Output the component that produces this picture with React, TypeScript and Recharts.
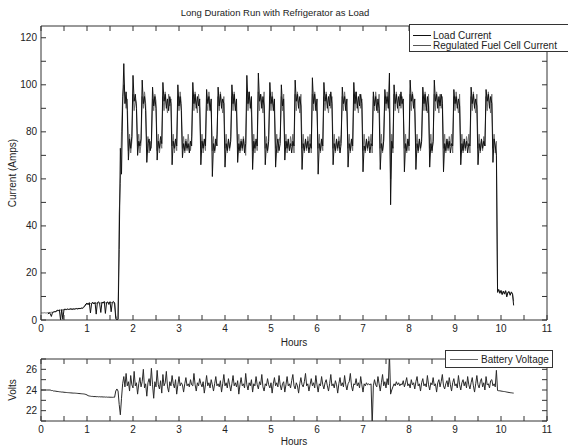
import React from 'react';
import { LineChart, Line, XAxis, YAxis } from 'recharts';

// ---------------- data ----------------
// Load current, sampled every 0.025 h starting at 0 h (null = not yet logged)
const LOAD_STEP_H = 0.025;
const loadCurrent: (number | null)[] = [
  null, null, null, null, null, null, 2.5, 3, 2.8, 1.5,
  3.2, 3.4, 3.6, 3.5, 4.2, 4.0, 4.3, 0, 4.4, 0.3,
  4.5, 4.6, 4.4, 4.7, 4.5, 4.6, 4.8, 4.5, 4.7, 4.6,
  4.8, 4.9, 4.7, 5.0, 4.8, 5.1, 5.0, 5.4, 6.0, 6.8,
  7.2, 6.5, 7.4, 3.0, 7.0, 7.6, 6.8, 7.5, 2.5, 7.3,
  7.8, 6.9, 3.2, 7.6, 7.2, 7.9, 2.8, 7.4, 7.7, 6.6,
  7.8, 3.5, 7.5, 7.9, 7.2, 0.5, 0, 0.5, 30, 73,
  62, 91, 109, 92, 97, 89, 68, 77, 73, 78,
  104, 93, 96, 90, 70, 76, 74, 77, 102, 92,
  95, 89, 67, 75, 77, 72, 76, 99, 91, 95,
  90, 68, 76, 73, 78, 75, 101, 93, 96, 90,
  94, 89, 95, 92, 66, 76, 73, 77, 74, 100,
  91, 95, 89, 69, 75, 72, 76, 73, 75, 71,
  76, 74, 101, 92, 96, 90, 95, 91, 94, 66,
  76, 73, 77, 74, 98, 92, 95, 89, 94, 61,
  75, 72, 77, 74, 99, 91, 96, 90, 94, 92,
  65, 75, 72, 77, 73, 76, 100, 92, 96, 89,
  94, 67, 75, 72, 76, 73, 77, 71, 75, 104,
  92, 97, 90, 95, 64, 76, 73, 77, 74, 105,
  93, 96, 90, 95, 91, 66, 75, 72, 76, 101,
  92, 95, 89, 94, 65, 74, 77, 72, 75, 100,
  91, 94, 68, 76, 73, 77, 72, 75, 71, 76,
  74, 102, 93, 96, 90, 95, 91, 64, 75, 72,
  77, 73, 76, 71, 75, 73, 103, 92, 96, 89,
  94, 62, 75, 72, 77, 74, 101, 93, 96, 90,
  95, 91, 97, 92, 66, 75, 72, 77, 73, 76,
  71, 75, 99, 92, 95, 89, 94, 65, 75, 72,
  77, 74, 101, 92, 97, 90, 95, 91, 96, 92,
  63, 74, 72, 77, 73, 76, 71, 75, 74, 97,
  91, 95, 89, 94, 90, 64, 75, 72, 76, 98,
  92, 95, 90, 105, 49, 76, 73, 100, 92, 96,
  90, 95, 91, 97, 92, 94, 63, 75, 72, 77,
  74, 102, 93, 96, 90, 94, 64, 75, 72, 77,
  73, 76, 99, 92, 96, 89, 95, 91, 65, 75,
  72, 76, 102, 93, 96, 90, 95, 91, 96, 92,
  63, 75, 72, 77, 73, 76, 71, 75, 74, 98,
  92, 95, 90, 94, 91, 66, 75, 72, 77, 73,
  76, 71, 75, 74, 99, 92, 96, 90, 94, 91,
  66, 75, 72, 77, 73, 76, 74, 98, 93, 96,
  90, 95, 92, 67, 77, 74, 70, 12, 13, 11.5,
  12.5, 10.8, 12.2, 11, 12.4, 9.8, 11.6, 12, 10.5, 11.8,
  11, 6.2,
];

// Regulated fuel cell current, sampled every 0.025 h starting at 0 h
const FUEL_STEP_H = 0.025;
const fuelCellCurrent: number[] = [
  3.0, 3.0, 3.0, 3.1, 3.0, 3.0, 3.1, 3.2, 3.2, 3.3,
  3.3, 3.4, 3.5, 3.6, 3.9, 4.0, 4.1, 4.2, 4.3, 4.3,
  4.4, 4.4, 4.5, 4.5, 4.5, 4.6, 4.6, 4.6, 4.7, 4.7,
  4.7, 4.8, 4.8, 4.8, 4.9, 4.9, 5.0, 5.2, 5.8, 6.4,
  6.8, 6.9, 7.0, 7.0, 7.1, 7.1, 7.0, 7.2, 7.1, 7.2,
  7.3, 7.2, 7.2, 7.3, 7.4, 7.3, 7.3, 7.4, 7.4, 7.3,
  7.5, 7.4, 7.4, 7.3, 7.3, 2.0, 0.3, 0.2, 45, 58,
  80, 95, 100, 96, 90, 94, 72, 79, 71, 76,
  96, 89, 94, 92, 74, 79, 71, 75, 95, 90,
  97, 92, 73, 78, 71, 76, 73, 94, 89, 96,
  93, 72, 79, 71, 76, 73, 95, 89, 97, 92,
  88, 96, 91, 94, 74, 79, 71, 76, 72, 95,
  89, 97, 92, 73, 78, 71, 77, 72, 79, 74,
  72, 78, 95, 89, 97, 92, 88, 96, 90, 73,
  79, 71, 76, 72, 94, 89, 97, 91, 88, 72,
  78, 71, 75, 79, 95, 89, 97, 92, 88, 95,
  73, 79, 71, 76, 72, 78, 95, 89, 97, 91,
  88, 73, 79, 71, 77, 72, 78, 74, 70, 96,
  89, 97, 92, 88, 72, 79, 71, 76, 72, 97,
  89, 96, 92, 88, 97, 73, 78, 71, 79, 95,
  89, 97, 92, 88, 73, 79, 71, 76, 78, 95,
  89, 96, 74, 79, 71, 76, 72, 78, 74, 79,
  71, 96, 89, 97, 92, 88, 96, 73, 79, 71,
  76, 72, 78, 74, 79, 71, 96, 89, 97, 91,
  88, 73, 79, 71, 76, 72, 95, 89, 97, 92,
  88, 96, 90, 95, 73, 79, 71, 76, 72, 78,
  74, 79, 95, 89, 97, 91, 88, 73, 79, 71,
  76, 72, 96, 89, 97, 92, 88, 96, 90, 94,
  72, 79, 71, 76, 72, 78, 74, 79, 71, 95,
  89, 97, 92, 88, 96, 73, 79, 71, 77, 95,
  89, 97, 92, 88, 60, 79, 71, 96, 89, 97,
  92, 88, 96, 90, 95, 89, 73, 79, 71, 76,
  72, 96, 89, 97, 92, 88, 73, 79, 71, 76,
  72, 78, 95, 89, 97, 91, 88, 96, 73, 79,
  71, 76, 96, 89, 97, 92, 88, 96, 90, 95,
  73, 79, 71, 76, 72, 78, 74, 79, 71, 95,
  89, 97, 92, 88, 96, 73, 79, 71, 76, 72,
  78, 74, 79, 71, 95, 89, 97, 91, 88, 96,
  73, 79, 71, 76, 72, 78, 74, 95, 89, 97,
  92, 88, 96, 73, 79, 71, 76, 11.5, 12.8, 11.2,
  12.6, 11.0, 12.3, 11.4, 12.5, 10.5, 11.9, 12.2, 10.8, 12.0,
  11.3, 8.0,
];

// Battery voltage, sampled every 0.025 h starting at 0 h
const VOLT_STEP_H = 0.025;
const batteryVoltage: number[] = [
  24.0, 24.0, 24.0, 24.0, 24.0, 24.0, 24.0, 24.0, 24.0, 23.95,
  23.95, 23.9, 23.9, 23.88, 23.86, 23.85, 23.83, 23.82, 23.8, 23.8,
  23.78, 23.77, 23.76, 23.75, 23.74, 23.73, 23.72, 23.71, 23.7, 23.7,
  23.69, 23.68, 23.67, 23.66, 23.65, 23.64, 23.63, 23.62, 23.6, 23.57,
  23.52, 23.45, 23.42, 23.4, 23.38, 23.38, 23.36, 23.37, 23.35, 23.36,
  23.34, 23.35, 23.33, 23.34, 23.32, 23.33, 23.31, 23.32, 23.3, 23.31,
  23.3, 23.3, 23.29, 23.3, 23.3, 23.9, 24.1, 23.9, 22.6, 21.6,
  23.2, 24.6, 25.3, 24.3, 25.6, 24.4, 24.8, 23.9, 25.4, 24.5,
  24.2, 25.8, 24.4, 24.7, 23.6, 24.6, 25.2, 24.3, 24.8, 26.0,
  24.2, 24.6, 23.4, 24.7, 25.1, 24.4, 26.1, 24.5, 23.2, 24.8,
  24.3, 25.9, 24.5, 24.1, 24.9, 23.7, 25.5, 24.4, 24.7, 25.8,
  24.3, 23.8, 24.8, 24.4, 25.4, 24.6, 24.2, 25.0, 23.6, 24.5,
  25.3, 24.4, 24.7, 24.5, 23.8, 24.6, 25.2, 24.4, 24.6, 24.3,
  25.0, 24.5, 24.4, 25.6, 24.5, 23.9, 24.7, 24.4, 25.1, 24.6,
  24.3, 24.8, 23.7, 24.5, 25.4, 24.4, 24.7, 24.2, 25.0, 24.5,
  23.9, 24.6, 25.3, 24.4, 24.6, 24.3, 24.9, 23.8, 24.6, 25.5,
  24.4, 24.7, 24.2, 25.1, 24.5, 23.9, 24.6, 25.4, 24.4, 24.7,
  24.3, 24.9, 23.6, 24.5, 25.2, 24.4, 24.6, 24.2, 25.6, 24.5,
  24.0, 24.7, 24.4, 25.0, 23.8, 24.6, 24.4, 25.3, 24.5, 24.1,
  24.8, 24.5, 25.5, 24.3, 23.9, 24.6, 24.4, 25.1, 24.5, 24.2,
  24.7, 23.7, 24.6, 25.2, 24.4, 24.7, 24.3, 25.4, 24.5, 24.0,
  24.6, 24.8, 23.8, 24.5, 25.3, 24.4, 24.6, 24.2, 24.9, 25.5,
  24.4, 24.1, 24.7, 24.4, 23.7, 24.6, 25.2, 24.5, 24.3, 24.8,
  25.6, 24.4, 24.6, 23.9, 24.5, 25.1, 24.4, 24.7, 24.2, 25.4,
  24.5, 23.8, 24.6, 24.4, 25.3, 24.5, 24.1, 24.7, 25.0, 24.4,
  23.9, 24.6, 25.5, 24.4, 24.6, 24.2, 24.9, 24.5, 23.7, 24.6,
  25.2, 24.4, 24.7, 24.3, 25.4, 24.5, 24.0, 24.6, 24.8, 25.6,
  24.4, 23.9, 24.6, 24.5, 25.1, 24.4, 24.7, 24.2, 25.3, 24.5,
  23.8, 24.6, 24.4, 24.7, 24.5, 24.6, 24.5, 24.6, 20.5, 24.4,
  25.0, 24.5, 24.3, 25.3, 24.6, 23.9, 24.7, 25.5, 24.4, 24.8,
  24.2, 25.1, 24.5, 27.5, 23.6, 24.0, 24.3, 24.6, 24.4, 24.8,
  24.5, 24.7, 24.4, 24.6, 24.5, 24.9, 24.3, 24.7, 25.2, 24.4,
  24.6, 24.2, 25.0, 24.5, 24.7, 24.1, 24.8, 25.3, 24.4, 24.6,
  23.9, 24.7, 25.1, 24.4, 24.6, 24.3, 25.4, 24.5, 24.0, 24.7,
  24.5, 25.2, 24.4, 24.6, 23.8, 24.7, 25.0, 24.3, 24.8, 25.5,
  24.4, 24.1, 24.6, 24.9, 24.3, 25.2, 24.5, 23.9, 24.7, 25.1,
  24.4, 24.6, 24.2, 25.4, 24.5, 24.0, 24.7, 25.0, 24.4, 24.8,
  24.2, 25.3, 24.5, 24.1, 24.7, 25.2, 24.4, 23.8, 24.6, 25.4,
  24.5, 24.2, 24.8, 25.1, 24.3, 24.7, 24.0, 25.3, 24.5, 24.6,
  24.2, 24.9, 25.0, 24.4, 24.6, 24.3, 25.9, 23.95, 23.93, 23.92,
  23.9, 23.88, 23.86, 23.85, 23.83, 23.8, 23.78, 23.76, 23.74, 23.73,
  23.71, 23.7,
];

// tick values
const hourTicks = [0, 0.5, 1, 1.5, 2, 2.5, 3, 3.5, 4, 4.5, 5, 5.5, 6, 6.5, 7, 7.5, 8, 8.5, 9, 9.5, 10, 10.5, 11];
const currentTicks = [0, 10, 20, 30, 40, 50, 60, 70, 80, 90, 100, 110, 120];
const currentLabelled = [0, 20, 40, 60, 80, 100, 120];
const voltTicks = [21, 22, 23, 24, 25, 26, 27];
const voltLabelled = [22, 24, 26];

const loadData = loadCurrent.map((v, i) => ({ h: i * LOAD_STEP_H, v }));
const fuelData = fuelCellCurrent.map((v, i) => ({ h: i * FUEL_STEP_H, v }));
const voltData = batteryVoltage.map((v, i) => ({ h: i * VOLT_STEP_H, v }));

// ---------------- styles ----------------
const FONT = "'Liberation Sans', Arial, Helvetica, sans-serif";
const AXIS = '#333';
const TXT = '#222';
const TL = 5;
const FS = 10;

const isInt = (v: number) => Math.abs(v - Math.round(v)) < 1e-6;

const BottomTick = (props: any) => {
  const { x, y, payload } = props;
  const v = payload.value;
  return (
    <g>
      <line x1={x} x2={x} y1={y} y2={y - TL} stroke={AXIS} strokeWidth={1} />
      {isInt(v) && (
        <text x={x} y={y + 12} textAnchor="middle" fontSize={FS} fontFamily={FONT} fill={TXT}>
          {v}
        </text>
      )}
    </g>
  );
};

const TopTick = (props: any) => {
  const { x, y } = props;
  return <line x1={x} x2={x} y1={y} y2={y + TL} stroke={AXIS} strokeWidth={1} />;
};

const makeLeftTick = (labelled: number[]) => (props: any) => {
  const { x, y, payload } = props;
  const v = payload.value;
  return (
    <g>
      <line x1={x} x2={x + TL} y1={y} y2={y} stroke={AXIS} strokeWidth={1} />
      {labelled.includes(v) && (
        <text x={x - 4} y={y + 3.5} textAnchor="end" fontSize={FS} fontFamily={FONT} fill={TXT}>
          {v}
        </text>
      )}
    </g>
  );
};

const RightTick = (props: any) => {
  const { x, y } = props;
  return <line x1={x} x2={x - TL} y1={y} y2={y} stroke={AXIS} strokeWidth={1} />;
};

const CurrentLeftTick = makeLeftTick(currentLabelled);
const VoltLeftTick = makeLeftTick(voltLabelled);

const axisCommon = {
  type: 'number' as const,
  allowDataOverflow: true,
  interval: 0 as const,
  tickSize: 0,
  tickMargin: 0,
  tickLine: false,
  axisLine: { stroke: AXIS, strokeWidth: 1 },
};

export default function App() {
  return (
    <div
      style={{
        position: 'absolute',
        left: 0,
        top: 0,
        width: 568,
        height: 447,
        overflow: 'hidden',
        background: '#fff',
        fontFamily: FONT,
      }}
    >
      <div style={{ position: 'absolute', left: 0, top: 0 }}>
        <LineChart width={568} height={350} margin={{ top: 25, right: 20, bottom: 0, left: 0 }}>
          <XAxis xAxisId="b" dataKey="h" domain={[0, 11]} ticks={hourTicks} height={30} tick={BottomTick} {...axisCommon} />
          <XAxis xAxisId="t" orientation="top" dataKey="h" domain={[0, 11]} ticks={hourTicks} height={1} tick={TopTick} {...axisCommon} />
          <YAxis yAxisId="l" domain={[0, 125]} ticks={currentTicks} width={41} tick={CurrentLeftTick} {...axisCommon} />
          <YAxis yAxisId="r" orientation="right" domain={[0, 125]} ticks={currentTicks} width={1} tick={RightTick} {...axisCommon} />
          {/* invisible copy bound to the top/right axes so the box axes are drawn */}
          <Line
            xAxisId="t"
            yAxisId="r"
            data={loadData}
            dataKey="v"
            stroke="none"
            strokeWidth={0}
            dot={false}
            activeDot={false}
            legendType="none"
            isAnimationActive={false}
          />
          <Line
            xAxisId="b"
            yAxisId="l"
            data={fuelData}
            dataKey="v"
            name="Regulated Fuel Cell Current"
            stroke="#707070"
            strokeWidth={1}
            dot={false}
            isAnimationActive={false}
            type="linear"
          />
          <Line
            xAxisId="b"
            yAxisId="l"
            data={loadData}
            dataKey="v"
            name="Load Current"
            stroke="#111"
            strokeWidth={1}
            dot={false}
            isAnimationActive={false}
            type="linear"
          />
        </LineChart>
      </div>

      <div style={{ position: 'absolute', left: 0, top: 350 }}>
        <LineChart width={568} height={97} margin={{ top: 8, right: 20, bottom: 0, left: 0 }}>
          <XAxis xAxisId="b" dataKey="h" domain={[0, 11]} ticks={hourTicks} height={26} tick={BottomTick} {...axisCommon} />
          <XAxis xAxisId="t" orientation="top" dataKey="h" domain={[0, 11]} ticks={hourTicks} height={1} tick={TopTick} {...axisCommon} />
          <YAxis yAxisId="l" domain={[21, 27]} ticks={voltTicks} width={41} tick={VoltLeftTick} {...axisCommon} />
          <YAxis yAxisId="r" orientation="right" domain={[21, 27]} ticks={voltTicks} width={1} tick={RightTick} {...axisCommon} />
          <Line
            xAxisId="t"
            yAxisId="r"
            data={voltData}
            dataKey="v"
            stroke="none"
            strokeWidth={0}
            dot={false}
            activeDot={false}
            legendType="none"
            isAnimationActive={false}
          />
          <Line
            xAxisId="b"
            yAxisId="l"
            data={voltData}
            dataKey="v"
            name="Battery Voltage"
            stroke="#2a2a2a"
            strokeWidth={1}
            dot={false}
            isAnimationActive={false}
            type="linear"
          />
        </LineChart>
      </div>

      <svg
        width={568}
        height={447}
        style={{ position: 'absolute', left: 0, top: 0, pointerEvents: 'none' }}
        fontFamily={FONT}
      >
        <text x={275} y={15.5} textAnchor="middle" fontSize={9.5} fill={TXT}>
          Long Duration Run with Refrigerator as Load
        </text>
        <text transform="translate(15.5,173) rotate(-90)" textAnchor="middle" fontSize={FS} fill={TXT}>
          Current (Amps)
        </text>
        <text x={294} y={346} textAnchor="middle" fontSize={FS} fill={TXT}>
          Hours
        </text>
        <text transform="translate(15.5,390) rotate(-90)" textAnchor="middle" fontSize={FS} fill={TXT}>
          Volts
        </text>
        <text x={294} y={445} textAnchor="middle" fontSize={FS} fill={TXT}>
          Hours
        </text>

        {/* legend, top plot */}
        <rect x={409.5} y={24.5} width={170} height={27} fill="#fff" stroke={AXIS} strokeWidth={1} />
        <line x1={413} x2={431} y1={35.5} y2={35.5} stroke="#111" strokeWidth={1} />
        <text x={433} y={39} fontSize={FS} fill={TXT}>Load Current</text>
        <line x1={413} x2={431} y1={45.5} y2={45.5} stroke="#555" strokeWidth={1} />
        <text x={433} y={49} fontSize={FS} fill={TXT}>Regulated Fuel Cell Current</text>

        {/* legend, bottom plot */}
        <rect x={445.5} y={350.5} width={107} height={17} fill="#fff" stroke={AXIS} strokeWidth={1} />
        <line x1={450} x2={478} y1={359.5} y2={359.5} stroke="#666" strokeWidth={1} />
        <text x={481} y={363} fontSize={FS} fill={TXT}>Battery Voltage</text>
      </svg>
    </div>
  );
}
